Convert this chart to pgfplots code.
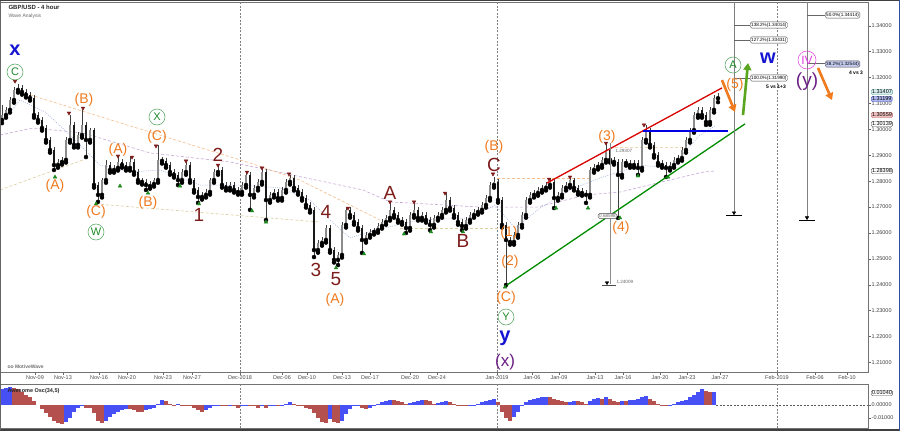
\documentclass[border=0pt]{standalone}
\usepackage{fontspec}
\setmainfont{Liberation Sans}
\usepackage{pgfplots}
\usepackage{pgfplotstable}
\pgfplotsset{compat=1.18}
\usetikzlibrary{arrows.meta}
\definecolor{ora}{HTML}{F07A1E}
\definecolor{dred}{HTML}{7E1C1C}
\definecolor{wgreen}{HTML}{1E8A2A}
\definecolor{wblue}{HTML}{1414D2}
\definecolor{wpurp}{HTML}{6A1E86}
\definecolor{wmag}{HTML}{E03CE0}
\definecolor{oblue}{HTML}{4650F5}
\definecolor{ored}{HTML}{B4504E}
\definecolor{tgreen}{HTML}{1F8A1F}
\definecolor{agreen}{HTML}{5AA51E}
\definecolor{maP}{RGB}{200,168,216}
\definecolor{maO}{RGB}{245,190,140}
\definecolor{maT}{RGB}{220,205,160}
\definecolor{maL}{RGB}{240,215,180}
\definecolor{maB}{RGB}{160,176,224}
\definecolor{fibfill}{RGB}{196,204,240}
\definecolor{bxTd}{RGB}{96,160,160}
\definecolor{bxTf}{RGB}{216,240,240}
\definecolor{bxBd}{RGB}{64,80,192}
\definecolor{bxBf}{RGB}{176,184,240}
\definecolor{bxRd}{RGB}{192,96,96}
\definecolor{bxRf}{RGB}{240,192,192}
\definecolor{winb}{RGB}{48,80,160}

\pgfplotstableread{
x o h l c
2 1.3036 1.3094 1.3024 1.3055
6 1.3055 1.3085 1.3045 1.3075
10 1.3075 1.3123 1.3065 1.3113
14 1.3113 1.3162 1.3103 1.3152
18 1.3152 1.3175 1.3142 1.3160
22 1.3160 1.3170 1.3134 1.3144
26 1.3144 1.3154 1.3123 1.3133
30 1.3133 1.3143 1.3111 1.3121
34 1.3121 1.3131 1.3045 1.3055
38 1.3055 1.3065 1.3026 1.3036
42 1.3036 1.3046 1.2995 1.3005
46 1.3005 1.3015 1.2949 1.2959
50 1.2959 1.2969 1.2910 1.2920
54 1.2920 1.2930 1.2843 1.2862
58 1.2862 1.2884 1.2852 1.2874
62 1.2874 1.2892 1.2864 1.2882
66 1.2882 1.2969 1.2872 1.2959
70 1.2959 1.3055 1.2949 1.3017
74 1.3017 1.3027 1.2930 1.2940
78 1.2940 1.2988 1.2930 1.2978
82 1.2978 1.3075 1.2968 1.3017
86 1.3017 1.3027 1.2893 1.2959
90 1.2959 1.3007 1.2949 1.2997
94 1.2997 1.3007 1.2775 1.2785
98 1.2785 1.2795 1.2720 1.2747
102 1.2747 1.2814 1.2737 1.2804
106 1.2804 1.2882 1.2794 1.2862
110 1.2862 1.2872 1.2833 1.2843
114 1.2843 1.2861 1.2833 1.2851
118 1.2851 1.2893 1.2841 1.2874
122 1.2874 1.2884 1.2852 1.2862
126 1.2862 1.2872 1.2841 1.2851
130 1.2851 1.2893 1.2841 1.2874
134 1.2874 1.2884 1.2825 1.2835
138 1.2835 1.2845 1.2794 1.2804
142 1.2804 1.2814 1.2787 1.2797
146 1.2797 1.2807 1.2766 1.2785
150 1.2781 1.2799 1.2771 1.2789
154 1.2789 1.2814 1.2779 1.2804
158 1.2804 1.2940 1.2794 1.2882
162 1.2885 1.2895 1.2868 1.2878
166 1.2878 1.2888 1.2852 1.2862
170 1.2862 1.2872 1.2825 1.2835
174 1.2835 1.2845 1.2814 1.2824
178 1.2824 1.2834 1.2785 1.2804
182 1.2804 1.2845 1.2794 1.2835
186 1.2835 1.2874 1.2825 1.2862
190 1.2862 1.2872 1.2794 1.2804
194 1.2804 1.2814 1.2756 1.2766
198 1.2766 1.2776 1.2716 1.2739
202 1.2739 1.2757 1.2729 1.2747
206 1.2747 1.2768 1.2737 1.2758
210 1.2758 1.2814 1.2748 1.2804
214 1.2804 1.2845 1.2794 1.2835
218 1.2835 1.2858 1.2825 1.2843
222 1.2843 1.2853 1.2775 1.2785
226 1.2785 1.2795 1.2764 1.2774
230 1.2774 1.2795 1.2764 1.2785
234 1.2785 1.2795 1.2756 1.2766
238 1.2766 1.2776 1.2748 1.2758
242 1.2758 1.2795 1.2748 1.2785
246 1.2785 1.2835 1.2775 1.2824
250 1.2824 1.2834 1.2689 1.2747
254 1.2747 1.2784 1.2737 1.2774
258 1.2774 1.2807 1.2764 1.2797
262 1.2797 1.2851 1.2787 1.2835
266 1.2835 1.2845 1.2650 1.2727
270 1.2727 1.2757 1.2717 1.2747
274 1.2747 1.2768 1.2737 1.2758
278 1.2758 1.2768 1.2725 1.2735
282 1.2735 1.2776 1.2725 1.2766
286 1.2766 1.2807 1.2756 1.2797
290 1.2797 1.2824 1.2787 1.2812
294 1.2812 1.2822 1.2764 1.2774
298 1.2774 1.2784 1.2748 1.2758
302 1.2758 1.2768 1.2725 1.2735
306 1.2735 1.2745 1.2698 1.2708
310 1.2708 1.2718 1.2679 1.2689
314 1.2689 1.2699 1.2507 1.2534
318 1.2534 1.2571 1.2524 1.2561
322 1.2561 1.2583 1.2551 1.2573
326 1.2573 1.2631 1.2563 1.2619
330 1.2619 1.2629 1.2524 1.2534
334 1.2534 1.2544 1.2486 1.2496
338 1.2496 1.2525 1.2476 1.2515
342 1.2515 1.2641 1.2505 1.2631
346 1.2631 1.2700 1.2621 1.2689
350 1.2689 1.2699 1.2659 1.2669
354 1.2669 1.2679 1.2632 1.2642
358 1.2642 1.2652 1.2609 1.2619
362 1.2619 1.2629 1.2523 1.2573
366 1.2573 1.2602 1.2563 1.2592
370 1.2592 1.2614 1.2582 1.2604
374 1.2604 1.2621 1.2594 1.2611
378 1.2611 1.2637 1.2601 1.2627
382 1.2627 1.2652 1.2617 1.2642
386 1.2642 1.2668 1.2632 1.2658
390 1.2658 1.2720 1.2648 1.2689
394 1.2689 1.2699 1.2659 1.2669
398 1.2669 1.2679 1.2640 1.2650
402 1.2650 1.2660 1.2632 1.2642
406 1.2642 1.2652 1.2600 1.2619
410 1.2619 1.2679 1.2609 1.2669
414 1.2669 1.2720 1.2659 1.2689
418 1.2689 1.2699 1.2648 1.2658
422 1.2658 1.2679 1.2648 1.2669
426 1.2669 1.2679 1.2640 1.2650
430 1.2650 1.2660 1.2611 1.2631
434 1.2631 1.2668 1.2621 1.2658
438 1.2658 1.2679 1.2648 1.2669
442 1.2669 1.2699 1.2659 1.2689
446 1.2689 1.2754 1.2679 1.2727
450 1.2727 1.2737 1.2686 1.2696
454 1.2696 1.2706 1.2659 1.2669
458 1.2669 1.2679 1.2632 1.2642
462 1.2642 1.2652 1.2611 1.2627
466 1.2627 1.2660 1.2617 1.2650
470 1.2650 1.2679 1.2640 1.2669
474 1.2669 1.2691 1.2659 1.2681
478 1.2681 1.2699 1.2671 1.2689
482 1.2689 1.2718 1.2679 1.2708
486 1.2708 1.2745 1.2698 1.2735
490 1.2735 1.2795 1.2725 1.2785
494 1.2785 1.2816 1.2775 1.2797
498 1.2797 1.2807 1.2717 1.2727
502 1.2727 1.2737 1.2621 1.2631
506 1.2631 1.2641 1.2399 1.2573
510 1.2573 1.2583 1.2555 1.2565
514 1.2565 1.2602 1.2555 1.2592
518 1.2592 1.2641 1.2582 1.2631
522 1.2631 1.2679 1.2621 1.2669
526 1.2669 1.2737 1.2659 1.2727
530 1.2727 1.2757 1.2717 1.2747
534 1.2747 1.2764 1.2737 1.2754
538 1.2754 1.2776 1.2744 1.2766
542 1.2766 1.2784 1.2756 1.2774
546 1.2774 1.2795 1.2764 1.2785
550 1.2785 1.2812 1.2775 1.2797
554 1.2797 1.2807 1.2696 1.2735
558 1.2735 1.2757 1.2725 1.2747
562 1.2747 1.2784 1.2737 1.2774
566 1.2774 1.2795 1.2764 1.2785
570 1.2785 1.2816 1.2775 1.2804
574 1.2804 1.2814 1.2764 1.2774
578 1.2774 1.2784 1.2748 1.2758
582 1.2762 1.2772 1.2744 1.2754
586 1.2754 1.2764 1.2716 1.2747
590 1.2747 1.2853 1.2737 1.2843
594 1.2843 1.2865 1.2833 1.2855
598 1.2855 1.2872 1.2845 1.2862
602 1.2862 1.2892 1.2852 1.2882
606 1.2882 1.2947 1.2872 1.2920
610 1.2920 1.2930 1.2872 1.2882
614 1.2882 1.2892 1.2864 1.2874
618 1.2874 1.2884 1.2658 1.2824
622 1.2824 1.2884 1.2814 1.2874
626 1.2874 1.2884 1.2860 1.2870
630 1.2870 1.2880 1.2852 1.2862
634 1.2862 1.2880 1.2852 1.2870
638 1.2870 1.2880 1.2824 1.2851
642 1.2851 1.2969 1.2841 1.2959
646 1.2959 1.3017 1.2949 1.2997
650 1.2997 1.3007 1.2930 1.2940
654 1.2940 1.2950 1.2891 1.2901
658 1.2901 1.2911 1.2860 1.2870
662 1.2870 1.2880 1.2852 1.2862
666 1.2862 1.2872 1.2816 1.2851
670 1.2851 1.2872 1.2841 1.2862
674 1.2862 1.2892 1.2852 1.2882
678 1.2882 1.2899 1.2872 1.2889
682 1.2889 1.2930 1.2879 1.2920
686 1.2920 1.2969 1.2910 1.2959
690 1.2959 1.3007 1.2949 1.2997
694 1.2997 1.3065 1.2987 1.3055
698 1.3055 1.3085 1.3045 1.3075
702 1.3075 1.3085 1.3045 1.3055
706 1.3055 1.3065 1.3017 1.3028
710 1.3028 1.3085 1.3018 1.3075
714 1.3075 1.3131 1.3065 1.3121
718 1.3121 1.3141 1.3105 1.3120
}\candles

\pgfplotstableread{
x v d
2 0.012 1
6 0.013 1
10 0.014 1
14 0.013 0
18 0.012 0
22 0.010 0
26 0.008 0
30 0.006 0
34 0.003 0
38 0.000 0
42 -0.003 0
46 -0.006 0
50 -0.009 0
54 -0.012 0
58 -0.014 0
62 -0.015 0
66 -0.013 1
70 -0.010 1
74 -0.005 1
78 -0.002 1
82 -0.001 1
86 -0.002 0
90 -0.002 0
94 -0.006 0
98 -0.012 0
102 -0.014 0
106 -0.012 1
110 -0.009 1
114 -0.007 1
118 -0.005 1
122 -0.004 1
126 -0.003 1
130 -0.003 0
134 -0.004 0
138 -0.005 0
142 -0.005 0
146 -0.004 1
150 -0.003 1
154 -0.002 1
158 0.001 1
162 0.004 1
166 0.003 0
170 0.001 0
174 0.0003 0
178 0.0005 1
182 0.0002 0
186 -0.001 0
190 -0.001 0
194 -0.002 0
198 -0.004 0
202 -0.005 0
206 -0.004 1
210 -0.002 1
214 -0.001 1
218 -0.0003 1
222 -0.001 0
226 -0.001 0
230 -0.0008 1
234 -0.001 0
238 -0.002 0
242 -0.001 1
246 -0.0003 1
250 -0.001 0
254 -0.001 0
258 -0.002 0
262 -0.001 1
266 -0.002 0
270 -0.001 1
274 -0.0008 1
278 -0.001 0
282 0.0003 1
286 0.001 1
290 0.002 1
294 0.001 0
298 0.0003 0
302 -0.001 0
306 -0.002 0
310 -0.003 0
314 -0.006 0
318 -0.010 0
322 -0.013 0
326 -0.014 0
330 -0.011 1
334 -0.013 0
338 -0.014 0
342 -0.012 1
346 -0.007 1
350 -0.003 1
354 -0.001 1
358 0.0003 1
362 -0.002 0
366 -0.003 0
370 -0.002 1
374 -0.001 1
378 0.001 1
382 0.002 1
386 0.003 1
390 0.004 1
394 0.004 0
398 0.003 0
402 0.002 0
406 0.001 0
410 0.0015 1
414 0.002 1
418 0.003 1
422 0.004 1
426 0.004 0
430 0.003 0
434 0.001 0
438 0.0015 1
442 0.002 1
446 0.003 1
450 0.002 0
454 0.001 0
458 0.0003 0
462 -0.001 0
466 -0.001 0
470 -0.0008 1
474 0.0003 1
478 0.001 1
482 0.002 1
486 0.003 1
490 0.004 1
494 0.005 1
498 0.002 0
502 -0.005 0
506 -0.010 0
510 -0.012 0
514 -0.009 1
518 -0.005 1
522 -0.001 1
526 0.002 1
530 0.004 1
534 0.005 1
538 0.0055 1
542 0.006 1
546 0.0065 1
550 0.006 0
554 0.005 0
558 0.004 0
562 0.003 0
566 0.002 0
570 0.002 1
574 0.003 1
578 0.003 0
582 0.002 0
586 0.001 0
590 0.003 1
594 0.005 1
598 0.0055 1
602 0.005 0
606 0.006 1
610 0.005 0
614 0.003 0
618 0.002 0
622 0.003 1
626 0.003 0
630 0.0035 1
634 0.004 1
638 0.005 1
642 0.006 1
646 0.007 1
650 0.005 0
654 0.003 0
658 0.001 0
662 0.0002 0
666 -0.001 0
670 -0.0003 1
674 0.001 1
678 0.002 1
682 0.003 1
686 0.004 1
690 0.006 1
694 0.008 1
698 0.010 1
702 0.012 1
706 0.011 0
710 0.010 0
714 0.0104 1
}\osc

\begin{document}
\begin{tikzpicture}
\path[use as bounding box] (0pt,0pt) rectangle (900pt,-431pt);
\fill[white] (0pt,0pt) rectangle (900pt,-431pt);

%================ main price panel
\begin{axis}[at={(0pt,-2pt)}, anchor=north west, width=868pt, height=370pt, scale only axis,
  xmin=0, xmax=868, ymin=1.20633, ymax=1.34915,
  axis line style={black!55},
  clip mode=individual,
  scaled x ticks=false, scaled y ticks=false,
  xtick={35,63,99,127,163,192,240,282,307,342,370,410,437,497,532,559,595,623,660,687,720,777,815,847},
  xticklabels={Nov-09,Nov-13,Nov-16,Nov-20,Nov-23,Nov-27,Dec-2018,Dec-06,Dec-10,Dec-13,Dec-17,Dec-20,Dec-24,Jan-2019,Jan-06,Jan-09,Jan-13,Jan-16,Jan-20,Jan-23,Jan-27,Feb-2019,Feb-06,Feb-10},
  xtick pos=bottom,
  ytick={1.21,1.22,1.23,1.24,1.25,1.26,1.27,1.28,1.29,1.30,1.31,1.32,1.33,1.34},
  yticklabels={1.21000,1.22000,1.23000,1.24000,1.25000,1.26000,1.27000,1.28000,1.29000,1.30000,1.31000,1.32000,1.33000,1.34000},
  ytick pos=right, yticklabel pos=right,
  tick align=outside, major tick length=2.5pt,
  minor y tick num=4, minor tick length=1.2pt,
  tick style={black!60, line width=0.4pt},
  x tick label style={font=\fontsize{5.5}{6}\selectfont, text=black!70, inner sep=1pt},
  y tick label style={font=\fontsize{5.5}{6}\selectfont, text=black!75, inner sep=1pt},
]
% dashed month separators
\addplot[black!50, line width=0.4pt, dash pattern=on 2pt off 1.5pt] coordinates {(240,1.20633) (240,1.34915)};
\addplot[black!50, line width=0.4pt, dash pattern=on 2pt off 1.5pt] coordinates {(497,1.20633) (497,1.34915)};
\addplot[black!50, line width=0.4pt, dash pattern=on 2pt off 1.5pt] coordinates {(777,1.20633) (777,1.34915)};

% moving averages / faint channel lines
\addplot[maP, line width=0.6pt, dash pattern=on 3pt off 2pt] coordinates {
(0,1.2978) (33,1.3005) (83,1.2986) (150,1.2909) (230,1.2874) (330,1.2793) (363,1.2766) (390,1.2720) (480,1.2700) (537,1.2700) (587,1.2747) (620,1.2758) (703,1.2835) (715,1.2839)};
\addplot[maO, line width=0.6pt, dash pattern=on 3pt off 2pt] coordinates {(30,1.3133) (250,1.2870) (300,1.2804) (380,1.2650)};
\addplot[maT, line width=0.6pt, dash pattern=on 3pt off 2pt] coordinates {(0,1.2766) (83,1.2882)};
\addplot[maT, line width=0.6pt, dash pattern=on 3pt off 2pt] coordinates {(96,1.2712) (320,1.2642)};
\addplot[maT, line width=0.6pt, dash pattern=on 3pt off 2pt] coordinates {(400,1.2619) (500,1.2619)};
\addplot[maO, line width=0.6pt, dash pattern=on 3pt off 2pt] coordinates {(497,1.2812) (590,1.2812)};
\addplot[maL, line width=0.6pt, dash pattern=on 3pt off 2pt] coordinates {(610,1.2932) (683,1.2932)};
\addplot[maB, line width=0.5pt, dash pattern=on 1pt off 1.2pt] coordinates {
(0,1.3017) (20,1.3113) (45,1.3067) (70,1.2978) (100,1.2862) (130,1.2835) (160,1.2843) (200,1.2785) (240,1.2785) (280,1.2774) (310,1.2727) (330,1.2650) (350,1.2581) (375,1.2611) (420,1.2650) (470,1.2658) (495,1.2708) (515,1.2619) (540,1.2696) (570,1.2766) (600,1.2812) (640,1.2862) (670,1.2851) (700,1.2978) (715,1.3013)};

% candles: wicks
\addplot[only marks, mark=none, error bars/.cd, y dir=plus, y explicit, error mark=none,
  error bar style={draw=black!75, line width=0.6pt}]
  table[x=x, y=l, y error expr={\thisrow{h}-\thisrow{l}}] {\candles};
% down bodies
\addplot[only marks, mark=none, x filter/.expression={\thisrow{c}>\thisrow{o} ? nan : x},
  error bars/.cd, y dir=plus, y explicit, error mark=none,
  error bar style={draw=black!90, line width=2.6pt}]
  table[x=x, y=c, y error expr={\thisrow{o}-\thisrow{c}}] {\candles};
% up bodies
\addplot[only marks, mark=none, x filter/.expression={\thisrow{c}>\thisrow{o} ? x : nan},
  error bars/.cd, y dir=plus, y explicit, error mark=none,
  error bar style={draw=black!45, line width=2.6pt}]
  table[x=x, y=o, y error expr={\thisrow{c}-\thisrow{o}}] {\candles};

% swing markers
\addplot[only marks, mark=triangle*, mark size=2.1pt, color=dred, mark options={rotate=180}] coordinates {
(15,1.3186) (69,1.3063) (83,1.3082) (118,1.2897) (132,1.2893) (156,1.2936) (186,1.2878) (218,1.2862) (247,1.2835) (262,1.2851) (289,1.2828) (348,1.2696) (390,1.2720) (414,1.2720) (445,1.2754) (493,1.2828) (549,1.2808) (570,1.2816) (606,1.2947) (644,1.3017)};
\addplot[only marks, mark=triangle*, mark size=2.1pt, color=tgreen] coordinates {
(55,1.2816) (96,1.2712) (120,1.2781) (148,1.2754) (180,1.2781) (199,1.2712) (252,1.2685) (266,1.2642) (336,1.2465) (364,1.2519) (404,1.2596) (431,1.2604) (463,1.2604) (505,1.2391) (556,1.2696) (588,1.2696) (620,1.2658) (638,1.2820) (668,1.2816)};

% trend lines
\addplot[red!85!black, line width=1.3pt] coordinates {(547,1.2793) (722,1.3160)};
\addplot[blue!90!black, line width=1.3pt] coordinates {(643,1.2994) (728,1.2994)};
\addplot[green!55!black, line width=1.3pt] coordinates {(507,1.2399) (745,1.3021)};

% fib verticals
\addplot[black!50, line width=0.8pt] coordinates {(734,1.3491) (734,1.2677)};
\addplot[black!50, line width=0.8pt] coordinates {(807,1.3491) (807,1.2658)};
\addplot[black!45, line width=0.6pt] coordinates {(610,1.2947) (610,1.2403)};
\addplot[black, line width=0.8pt] coordinates {(726,1.2669) (742,1.2669)};
\addplot[black, line width=0.8pt] coordinates {(799,1.2650) (815,1.2650)};
\addplot[black!70, line width=0.7pt] coordinates {(602,1.2399) (616,1.2399)};
\addplot[only marks, mark=triangle*, mark size=2pt, color=black, mark options={rotate=180}] coordinates {(734,1.2678) (807,1.2659) (607,1.2408)};
\addplot[black!60, line width=0.5pt] coordinates {(734,1.34014) (750,1.34014)};
\addplot[black!60, line width=0.5pt] coordinates {(734,1.33431) (750,1.33431)};
\addplot[black!60, line width=0.5pt] coordinates {(734,1.31990) (750,1.31990)};
\addplot[black!60, line width=0.5pt] coordinates {(807,1.34414) (825,1.34414)};
\addplot[black!60, line width=0.5pt] coordinates {(807,1.32544) (825,1.32544)};

% arrows
\addplot[ora, line width=2.6pt, -{Triangle[length=7pt,width=8pt]}] coordinates {(722,1.3190) (735,1.3067)};
\addplot[agreen, line width=2.6pt, -{Triangle[length=7pt,width=8pt]}] coordinates {(743,1.3055) (748,1.3256)};
\addplot[ora, line width=2.6pt, -{Triangle[length=7pt,width=8pt]}] coordinates {(818,1.3237) (832,1.3113)};
\end{axis}

%================ oscillator panel
\begin{axis}[at={(0pt,-384pt)}, anchor=north west, width=868pt, height=44pt, scale only axis,
  xmin=0, xmax=868, ymin=-0.0177, ymax=0.0162,
  axis line style={black!55},
  scaled x ticks=false, scaled y ticks=false,
  xtick=\empty,
  ytick={-0.01,0}, yticklabels={-0.01000,0.00000},
  ytick pos=right, yticklabel pos=right,
  tick align=outside, major tick length=2.5pt,
  tick style={black!60, line width=0.4pt},
  y tick label style={font=\fontsize{5.5}{6}\selectfont, text=black!75, inner sep=1pt},
]
\addplot[black!50, line width=0.4pt, dash pattern=on 2pt off 1.5pt] coordinates {(240,-0.0177) (240,0.0162)};
\addplot[black!50, line width=0.4pt, dash pattern=on 2pt off 1.5pt] coordinates {(497,-0.0177) (497,0.0162)};
\addplot[black!50, line width=0.4pt, dash pattern=on 2pt off 1.5pt] coordinates {(777,-0.0177) (777,0.0162)};
\addplot[ycomb, oblue, line width=3.1pt, x filter/.expression={\thisrow{d}>0.5 ? x : nan}] table[x=x, y=v] {\osc};
\addplot[ycomb, ored, line width=3.1pt, x filter/.expression={\thisrow{d}>0.5 ? nan : x}] table[x=x, y=v] {\osc};
\addplot[black!65, line width=0.4pt, dash pattern=on 2pt off 1.5pt] coordinates {(716,0) (868,0)};
\end{axis}

%================ annotations (pixel positions, y downward)
\node[anchor=west, font=\bfseries\fontsize{6}{6}\selectfont, text=black!85] at (5pt,-7pt) {GBP/USD - 4 hour};
\node[anchor=west, font=\fontsize{5}{5}\selectfont, text=black!60] at (5pt,-16pt) {Wave Analysis};
\node[anchor=west, font=\bfseries\fontsize{5}{5}\selectfont, text=black!55] at (4pt,-367pt) {oo MotiveWave};
\node[anchor=west, font=\bfseries\fontsize{5.5}{5.5}\selectfont, text=black!85] at (4pt,-391pt) {Awesome Osc(34,5)};

\tikzset{
  oA/.style={text=ora, font=\fontsize{14}{14}\selectfont, inner sep=0pt},
  dR/.style={text=dred, font=\fontsize{19}{19}\selectfont, inner sep=0pt},
  gC/.style={circle, draw=wgreen!80, line width=0.5pt, text=wgreen, font=\fontsize{11}{11}\selectfont, inner sep=0pt, minimum size=16pt},
  bL/.style={text=wblue, font=\bfseries\fontsize{20}{20}\selectfont, inner sep=0pt},
  pL/.style={text=wpurp, font=\fontsize{17}{17}\selectfont, inner sep=0pt},
  fb/.style={draw=black!70, rounded corners=1.5pt, fill=white, font=\fontsize{4.6}{5}\selectfont, inner sep=1pt, anchor=west},
  pb/.style={rounded corners=1.5pt, font=\fontsize{5.5}{6}\selectfont, inner sep=0.8pt, anchor=west}
}

\node[bL] at (15pt,-50pt) {x};
\node[gC] at (15pt,-72pt) {C};
\node[oA] at (55pt,-186pt) {(A)};
\node[oA] at (84pt,-100pt) {(B)};
\node[gC] at (157pt,-117pt) {X};
\node[oA] at (157pt,-137pt) {(C)};
\node[oA] at (118pt,-150pt) {(A)};
\node[oA] at (96pt,-212pt) {(C)};
\node[gC] at (96pt,-232pt) {W};
\node[oA] at (148pt,-203pt) {(B)};
\node[dR] at (199pt,-215pt) {1};
\node[dR] at (218pt,-155pt) {2};
\node[dR] at (316pt,-270pt) {3};
\node[dR] at (326pt,-212pt) {4};
\node[dR] at (336pt,-279pt) {5};
\node[oA] at (335pt,-300pt) {(A)};
\node[dR] at (390pt,-193pt) {A};
\node[dR] at (463pt,-241pt) {B};
\node[oA] at (494pt,-147pt) {(B)};
\node[dR] at (494pt,-165pt) {C};
\node[oA] at (509pt,-233pt) {(1)};
\node[oA] at (510pt,-262pt) {(2)};
\node[oA] at (506pt,-298pt) {(C)};
\node[gC] at (506pt,-317pt) {Y};
\node[bL] at (505pt,-338pt) {y};
\node[pL] at (505pt,-362pt) {(x)};
\node[oA] at (607pt,-137pt) {(3)};
\node[oA] at (621pt,-228pt) {(4)};
\node[oA] at (735pt,-85pt) {(5)};
\node[gC] at (733pt,-65pt) {A};
\node[bL] at (768pt,-58pt) {w};
\node[circle, draw=wmag, line width=0.5pt, text=wmag, font=\fontsize{12}{12}\selectfont, inner sep=0pt, minimum size=18pt] at (807pt,-60pt) {IV};
\node[pL, font=\fontsize{19}{19}\selectfont] at (807pt,-82pt) {(y)};

% fib boxes
\node[fb] at (750pt,-25pt) {138.2\%(1.34014)};
\node[fb] at (750pt,-40pt) {127.2\%(1.33431)};
\node[fb] at (750pt,-78pt) {100.0\%(1.31990)};
\node[fb] at (825pt,-15pt) {50.0\%(1.34414)};
\node[fb, fill=fibfill] at (825pt,-64pt) {38.2\%(1.32544)};
\node[font=\bfseries\fontsize{5}{5}\selectfont] at (776pt,-87pt) {5 vs 1+3};
\node[font=\bfseries\fontsize{5}{5}\selectfont] at (856pt,-73pt) {4 vs 3};
\node[anchor=west, font=\fontsize{4.6}{5}\selectfont, text=black!60] at (612pt,-151pt) {1.29307};
\node[anchor=west, font=\fontsize{4.6}{5}\selectfont, text=black!60] at (613pt,-282pt) {1.24009};
\node[fb, anchor=east, text=black!60] at (617pt,-216pt) {0.68598};

% right-axis price boxes
\node[pb, draw=bxTd, fill=bxTf] at (871pt,-92pt) {1.31407};
\node[pb, draw=bxBd, fill=bxBf] at (871pt,-99pt) {1.31199};
\node[pb, draw=bxRd, fill=bxRf] at (871pt,-115pt) {1.30559};
\node[pb, draw=black!70, fill=white] at (871pt,-124pt) {1.30139};
\node[pb, draw=black!70, fill=white] at (871pt,-171pt) {1.28398};
\node[pb, draw=black!70, fill=white] at (871pt,-393pt) {0.01040};

% frame
\draw[black!75, line width=0.8pt] (0.4pt,-0.6pt) -- (899pt,-0.6pt);
\draw[black!75, line width=1.2pt] (0pt,-430pt) -- (900pt,-430pt);
\draw[black!60, line width=0.6pt] (0.3pt,-0.6pt) -- (0.3pt,-430pt);
\draw[winb, line width=1.4pt] (899.2pt,0pt) -- (899.2pt,-431pt);
\end{tikzpicture}
\end{document}
